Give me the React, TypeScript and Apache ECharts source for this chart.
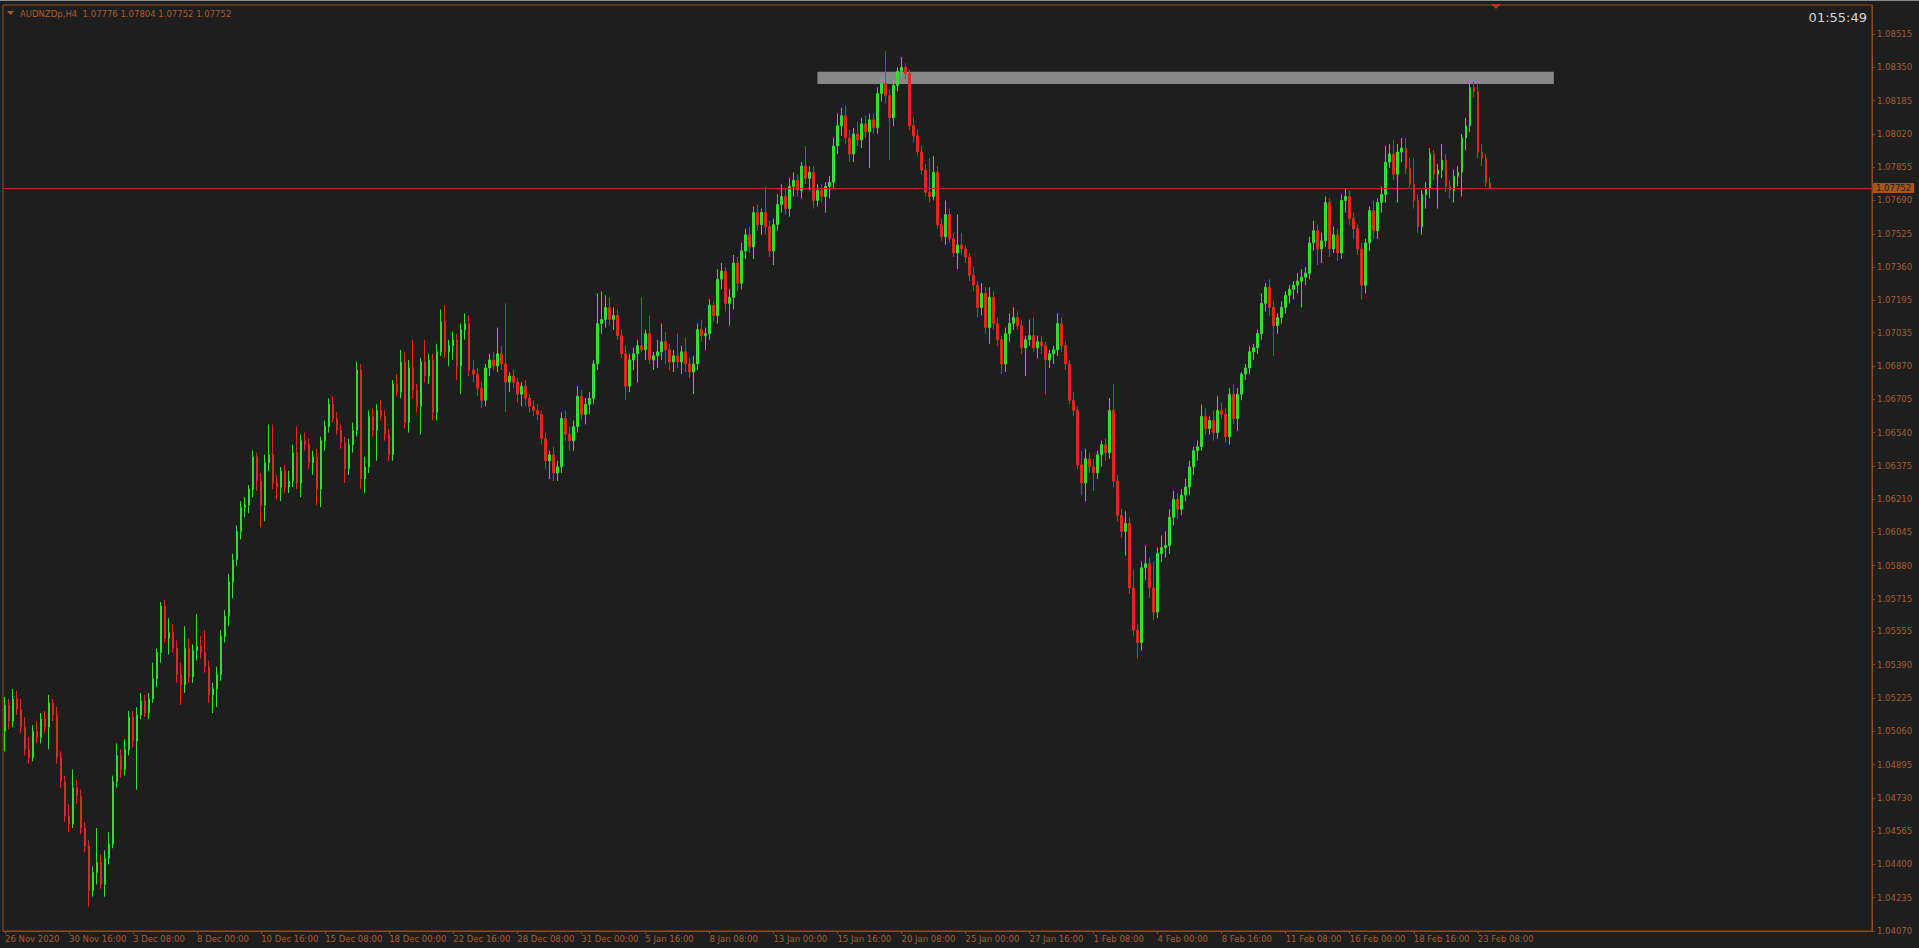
import React, { useEffect, useRef } from "react";
import * as echarts from "echarts";

const FONT = '"DejaVu Sans", Tahoma, Verdana, sans-serif';
const BG = "#1e1e1e";
const FG = "#a85d30";
const LINE = "#8f4a1f";
const UP = "#35dc35";
const DOWN = "#dc2a22";
const PRICE_LINE = "#c02424";
const PRICE_BOX = "#a8541f";

const SYMBOL = "AUDNZDp,H4";
const CLOCK = "01:55:49";

const PRICE_MIN = 1.0407;
const PRICE_MAX = 1.086587;

// zone rectangle (resistance band), in bars and prices
const ZONE_START = 203;
const ZONE_END = 387;
const ZONE_TOP = 1.08328;
const ZONE_BOTTOM = 1.08267;

const SLOTS = 467; // bar slots incl. right-hand chart shift
const LABEL_STEP = 16;

const timeLabels = [
  "26 Nov 2020", "30 Nov 16:00", "3 Dec 08:00", "8 Dec 00:00", "10 Dec 16:00", "15 Dec 08:00",
  "18 Dec 00:00", "22 Dec 16:00", "28 Dec 08:00", "31 Dec 00:00", "5 Jan 16:00", "8 Jan 08:00",
  "13 Jan 00:00", "15 Jan 16:00", "20 Jan 08:00", "25 Jan 00:00", "27 Jan 16:00", "1 Feb 08:00",
  "4 Feb 00:00", "8 Feb 16:00", "11 Feb 08:00", "16 Feb 00:00", "18 Feb 16:00", "23 Feb 08:00",
];

const priceLabels = [
  "1.08515", "1.08350", "1.08185", "1.08020", "1.07855", "1.07690", "1.07525", "1.07360",
  "1.07195", "1.07035", "1.06870", "1.06705", "1.06540", "1.06375", "1.06210", "1.06045",
  "1.05880", "1.05715", "1.05555", "1.05390", "1.05225", "1.05060", "1.04895", "1.04730",
  "1.04565", "1.04400", "1.04235", "1.04070",
];

// H4 candles as [open, high, low, close]
const seg1 = [
  [1.0506,1.0523,1.0496,1.0519],[1.0519,1.0522,1.0507,1.0511],[1.0511,1.0527,1.0508,1.0522],[1.0522,1.0526,1.0514,1.0517],[1.0517,1.0522,1.0505,1.0508],[1.0508,1.0513,1.0494,1.0497],[1.0497,1.0503,1.0490,1.0493],[1.0493,1.0509,1.0491,1.0506],
  [1.0506,1.0511,1.0500,1.0503],[1.0503,1.0515,1.0500,1.0512],[1.0512,1.0516,1.0505,1.0508],[1.0508,1.0524,1.0497,1.0520],[1.0520,1.0522,1.0511,1.0514],[1.0514,1.0518,1.0490,1.0493],[1.0493,1.0496,1.0478,1.0481],[1.0481,1.0484,1.0461,1.0464],
  [1.0464,1.0470,1.0456,1.0460],[1.0460,1.0487,1.0458,1.0478],[1.0478,1.0482,1.0470,1.0474],[1.0474,1.0477,1.0455,1.0458],[1.0458,1.0461,1.0446,1.0449],[1.0449,1.0452,1.0419,1.0427],[1.0427,1.0439,1.0424,1.0436],[1.0436,1.0458,1.0430,1.0441],
  [1.0441,1.0445,1.0428,1.0430],[1.0430,1.0447,1.0424,1.0443],[1.0443,1.0456,1.0440,1.0450],[1.0450,1.0484,1.0448,1.0481],[1.0481,1.0500,1.0478,1.0494],[1.0494,1.0497,1.0483,1.0487],[1.0487,1.0502,1.0484,1.0497],[1.0497,1.0516,1.0494,1.0513],
  [1.0513,1.0516,1.0498,1.0501],[1.0501,1.0518,1.0477,1.0514],[1.0514,1.0525,1.0512,1.0521],[1.0521,1.0524,1.0513,1.0515],[1.0515,1.0525,1.0512,1.0522],[1.0522,1.0540,1.0520,1.0532],[1.0532,1.0547,1.0528,1.0545],[1.0545,1.0570,1.0540,1.0568],
  [1.0568,1.0571,1.0550,1.0552],[1.0552,1.0562,1.0544,1.0555],[1.0555,1.0559,1.0545,1.0547],[1.0547,1.0551,1.0530,1.0534],[1.0534,1.0540,1.0519,1.0529],[1.0529,1.0558,1.0525,1.0547],[1.0547,1.0552,1.0530,1.0533],[1.0533,1.0549,1.0530,1.0546],
  [1.0546,1.0564,1.0541,1.0548],[1.0548,1.0553,1.0542,1.0545],[1.0545,1.0556,1.0535,1.0538],[1.0538,1.0541,1.0520,1.0524],[1.0524,1.0530,1.0515,1.0527],[1.0527,1.0538,1.0518,1.0534],[1.0534,1.0556,1.0531,1.0553],[1.0553,1.0566,1.0550,1.0563],
  [1.0563,1.0584,1.0558,1.0580],[1.0580,1.0594,1.0572,1.0591],[1.0591,1.0608,1.0588,1.0605],[1.0605,1.0620,1.0601,1.0617],[1.0617,1.0622,1.0612,1.0618],[1.0618,1.0628,1.0614,1.0626],[1.0626,1.0645,1.0622,1.0642],[1.0642,1.0644,1.0625,1.0630],
];

const seg2 = [
  [1.0630,1.0634,1.0607,1.0618],[1.0618,1.0643,1.0610,1.0639],[1.0639,1.0658,1.0635,1.0643],[1.0643,1.0658,1.0626,1.0629],[1.0629,1.0633,1.0621,1.0627],[1.0627,1.0637,1.0620,1.0635],[1.0635,1.0638,1.0624,1.0627],[1.0627,1.0635,1.0624,1.0630],
  [1.0630,1.0648,1.0627,1.0644],[1.0644,1.0657,1.0626,1.0629],[1.0629,1.0653,1.0622,1.0650],[1.0650,1.0654,1.0645,1.0648],[1.0648,1.0651,1.0636,1.0639],[1.0639,1.0645,1.0633,1.0642],[1.0642,1.0646,1.0618,1.0626],[1.0626,1.0652,1.0617,1.0650],
  [1.0650,1.0660,1.0645,1.0657],[1.0657,1.0671,1.0654,1.0668],[1.0668,1.0672,1.0659,1.0661],[1.0661,1.0664,1.0653,1.0655],[1.0655,1.0658,1.0646,1.0649],[1.0649,1.0652,1.0629,1.0636],[1.0636,1.0651,1.0633,1.0648],[1.0648,1.0659,1.0644,1.0655],
  [1.0655,1.0689,1.0652,1.0685],[1.0685,1.0688,1.0626,1.0631],[1.0631,1.0642,1.0624,1.0637],[1.0637,1.0665,1.0634,1.0662],[1.0662,1.0666,1.0652,1.0655],[1.0655,1.0668,1.0640,1.0665],[1.0665,1.0670,1.0660,1.0662],[1.0662,1.0665,1.0650,1.0653],
  [1.0653,1.0656,1.0640,1.0643],[1.0643,1.0680,1.0640,1.0678],[1.0678,1.0683,1.0672,1.0674],[1.0674,1.0695,1.0671,1.0689],[1.0689,1.0694,1.0656,1.0659],[1.0659,1.0690,1.0654,1.0686],[1.0686,1.0700,1.0671,1.0675],[1.0675,1.0678,1.0664,1.0667],
  [1.0667,1.0691,1.0653,1.0689],[1.0689,1.0700,1.0679,1.0682],[1.0682,1.0693,1.0678,1.0690],[1.0690,1.0693,1.0660,1.0664],[1.0664,1.0698,1.0660,1.0694],[1.0694,1.0715,1.0692,1.0709],[1.0709,1.0717,1.0691,1.0694],[1.0694,1.0700,1.0687,1.0697],
  [1.0697,1.0704,1.0690,1.0700],[1.0700,1.0703,1.0680,1.0687],[1.0687,1.0708,1.0673,1.0705],[1.0705,1.0713,1.0700,1.0708],[1.0708,1.0712,1.0682,1.0685],[1.0685,1.0690,1.0679,1.0683],[1.0683,1.0686,1.0672,1.0676],[1.0676,1.0679,1.0666,1.0670],
  [1.0670,1.0688,1.0667,1.0686],[1.0686,1.0693,1.0682,1.0690],[1.0690,1.0694,1.0685,1.0687],[1.0687,1.0706,1.0684,1.0693],[1.0693,1.0697,1.0685,1.0688],[1.0688,1.0718,1.0664,1.0679],[1.0679,1.0684,1.0674,1.0682],[1.0682,1.0685,1.0676,1.0679],
];

const seg3 = [
  [1.0679,1.0681,1.0669,1.0673],[1.0673,1.0679,1.0667,1.0677],[1.0677,1.0680,1.0667,1.0671],[1.0671,1.0673,1.0664,1.0667],[1.0667,1.0670,1.0662,1.0665],[1.0665,1.0668,1.0660,1.0663],[1.0663,1.0665,1.0648,1.0651],[1.0651,1.0654,1.0636,1.0640],
  [1.0640,1.0645,1.0631,1.0643],[1.0643,1.0647,1.0630,1.0634],[1.0634,1.0640,1.0630,1.0637],[1.0637,1.0664,1.0634,1.0661],[1.0661,1.0665,1.0650,1.0653],[1.0653,1.0657,1.0645,1.0650],[1.0650,1.0660,1.0645,1.0657],[1.0657,1.0677,1.0654,1.0672],
  [1.0672,1.0675,1.0660,1.0663],[1.0663,1.0671,1.0658,1.0668],[1.0668,1.0674,1.0663,1.0671],[1.0671,1.0690,1.0668,1.0688],[1.0688,1.0723,1.0685,1.0708],[1.0708,1.0724,1.0703,1.0710],[1.0710,1.0722,1.0706,1.0716],[1.0716,1.0721,1.0707,1.0710],
  [1.0710,1.0716,1.0705,1.0712],[1.0712,1.0715,1.0700,1.0702],[1.0702,1.0705,1.0691,1.0693],[1.0693,1.0697,1.0670,1.0677],[1.0677,1.0693,1.0674,1.0690],[1.0690,1.0696,1.0685,1.0693],[1.0693,1.0700,1.0679,1.0697],[1.0697,1.0721,1.0694,1.0695],
  [1.0695,1.0705,1.0690,1.0703],[1.0703,1.0712,1.0688,1.0690],[1.0690,1.0694,1.0685,1.0692],[1.0692,1.0700,1.0686,1.0694],[1.0694,1.0708,1.0690,1.0699],[1.0699,1.0704,1.0688,1.0695],[1.0695,1.0698,1.0685,1.0689],[1.0689,1.0695,1.0684,1.0692],
  [1.0692,1.0703,1.0686,1.0689],[1.0689,1.0697,1.0683,1.0694],[1.0694,1.0701,1.0684,1.0688],[1.0688,1.0691,1.0681,1.0684],[1.0684,1.0692,1.0673,1.0688],[1.0688,1.0708,1.0685,1.0705],[1.0705,1.0710,1.0699,1.0702],[1.0702,1.0706,1.0695,1.0703],
  [1.0703,1.0720,1.0700,1.0717],[1.0717,1.0719,1.0709,1.0712],[1.0712,1.0735,1.0708,1.0730],[1.0730,1.0738,1.0725,1.0734],[1.0734,1.0736,1.0714,1.0718],[1.0718,1.0725,1.0707,1.0721],[1.0721,1.0742,1.0715,1.0738],[1.0738,1.0741,1.0724,1.0728],
  [1.0728,1.0748,1.0725,1.0744],[1.0744,1.0755,1.0740,1.0752],[1.0752,1.0756,1.0743,1.0746],[1.0746,1.0766,1.0740,1.0763],[1.0763,1.0767,1.0754,1.0757],[1.0757,1.0765,1.0752,1.0763],[1.0763,1.0776,1.0752,1.0756],[1.0756,1.0759,1.0741,1.0744],
];

const seg4 = [
  [1.0744,1.0760,1.0737,1.0757],[1.0757,1.0772,1.0754,1.0767],[1.0767,1.0777,1.0763,1.0771],[1.0771,1.0775,1.0762,1.0765],[1.0765,1.0780,1.0761,1.0776],[1.0776,1.0783,1.0771,1.0779],[1.0779,1.0782,1.0771,1.0774],[1.0774,1.0788,1.0770,1.0786],
  [1.0786,1.0796,1.0777,1.0780],[1.0780,1.0786,1.0774,1.0783],[1.0783,1.0786,1.0765,1.0769],[1.0769,1.0777,1.0766,1.0774],[1.0774,1.0777,1.0768,1.0771],[1.0771,1.0778,1.0763,1.0776],[1.0776,1.0781,1.0770,1.0778],[1.0778,1.0800,1.0775,1.0796],
  [1.0796,1.0812,1.0792,1.0806],[1.0806,1.0815,1.0801,1.0811],[1.0811,1.0816,1.0797,1.0800],[1.0800,1.0804,1.0788,1.0792],[1.0792,1.0805,1.0788,1.0802],[1.0802,1.0808,1.0796,1.0799],[1.0799,1.0810,1.0795,1.0807],[1.0807,1.0811,1.0800,1.0803],
  [1.0803,1.0812,1.0785,1.0809],[1.0809,1.0812,1.0802,1.0805],[1.0805,1.0825,1.0802,1.0822],[1.0822,1.0830,1.0818,1.0827],[1.0827,1.0843,1.0817,1.0821],[1.0821,1.0824,1.0789,1.0810],[1.0810,1.0829,1.0806,1.0826],[1.0826,1.0835,1.0823,1.0833],
  [1.0833,1.0840,1.0830,1.0835],[1.0835,1.0837,1.0829,1.0832],[1.0832,1.0834,1.0804,1.0806],[1.0806,1.0810,1.0798,1.0801],[1.0801,1.0804,1.0791,1.0793],[1.0793,1.0796,1.0782,1.0784],[1.0784,1.0787,1.0771,1.0773],[1.0773,1.0790,1.0768,1.0771],
  [1.0771,1.0791,1.0769,1.0783],[1.0783,1.0786,1.0755,1.0757],[1.0757,1.0760,1.0749,1.0751],[1.0751,1.0769,1.0747,1.0762],[1.0762,1.0765,1.0748,1.0750],[1.0750,1.0753,1.0741,1.0743],[1.0743,1.0762,1.0735,1.0747],[1.0747,1.0753,1.0742,1.0745],
  [1.0745,1.0747,1.0738,1.0741],[1.0741,1.0743,1.0729,1.0732],[1.0732,1.0736,1.0724,1.0727],[1.0727,1.0729,1.0711,1.0716],[1.0716,1.0728,1.0712,1.0723],[1.0723,1.0726,1.0703,1.0706],[1.0706,1.0726,1.0698,1.0721],[1.0721,1.0724,1.0705,1.0708],
  [1.0708,1.0711,1.0697,1.0700],[1.0700,1.0702,1.0683,1.0688],[1.0688,1.0706,1.0684,1.0703],[1.0703,1.0713,1.0699,1.0708],[1.0708,1.0716,1.0705,1.0711],[1.0711,1.0714,1.0705,1.0707],[1.0707,1.0710,1.0693,1.0696],[1.0696,1.0702,1.0682,1.0700],
];

const seg5 = [
  [1.0700,1.0710,1.0697,1.0702],[1.0702,1.0711,1.0694,1.0696],[1.0696,1.0702,1.0691,1.0699],[1.0699,1.0702,1.0693,1.0697],[1.0697,1.0699,1.0673,1.0690],[1.0690,1.0695,1.0686,1.0693],[1.0693,1.0697,1.0688,1.0695],[1.0695,1.0713,1.0692,1.0708],
  [1.0708,1.0711,1.0694,1.0697],[1.0697,1.0699,1.0685,1.0688],[1.0688,1.0690,1.0668,1.0670],[1.0670,1.0674,1.0662,1.0665],[1.0665,1.0667,1.0636,1.0638],[1.0638,1.0645,1.0623,1.0629],[1.0629,1.0646,1.0620,1.0641],[1.0641,1.0644,1.0634,1.0637],
  [1.0637,1.0641,1.0625,1.0634],[1.0634,1.0645,1.0631,1.0643],[1.0643,1.0650,1.0637,1.0648],[1.0648,1.0651,1.0640,1.0644],[1.0644,1.0671,1.0641,1.0665],[1.0665,1.0678,1.0627,1.0630],[1.0630,1.0633,1.0610,1.0613],[1.0613,1.0616,1.0602,1.0605],
  [1.0605,1.0615,1.0593,1.0609],[1.0609,1.0612,1.0574,1.0577],[1.0577,1.0586,1.0553,1.0556],[1.0556,1.0559,1.0542,1.0550],[1.0550,1.0590,1.0546,1.0587],[1.0587,1.0598,1.0581,1.0589],[1.0589,1.0592,1.0572,1.0577],[1.0577,1.0590,1.0561,1.0565],
  [1.0565,1.0597,1.0562,1.0594],[1.0594,1.0603,1.0590,1.0597],[1.0597,1.0605,1.0592,1.0598],[1.0598,1.0616,1.0594,1.0612],[1.0612,1.0625,1.0608,1.0621],[1.0621,1.0624,1.0611,1.0616],[1.0616,1.0626,1.0613,1.0623],[1.0623,1.0631,1.0620,1.0627],
  [1.0627,1.0640,1.0623,1.0637],[1.0637,1.0647,1.0633,1.0645],[1.0645,1.0650,1.0640,1.0647],[1.0647,1.0668,1.0645,1.0662],[1.0662,1.0666,1.0653,1.0656],[1.0656,1.0662,1.0653,1.0660],[1.0660,1.0665,1.0650,1.0654],[1.0654,1.0672,1.0651,1.0665],
  [1.0665,1.0669,1.0661,1.0663],[1.0663,1.0666,1.0649,1.0652],[1.0652,1.0676,1.0648,1.0673],[1.0673,1.0678,1.0658,1.0661],[1.0661,1.0676,1.0655,1.0673],[1.0673,1.0684,1.0670,1.0683],[1.0683,1.0688,1.0680,1.0686],[1.0686,1.0697,1.0683,1.0694],
  [1.0694,1.0698,1.0690,1.0696],[1.0696,1.0705,1.0693,1.0703],[1.0703,1.0723,1.0700,1.0718],[1.0718,1.0728,1.0714,1.0726],[1.0726,1.0730,1.0712,1.0716],[1.0716,1.0719,1.0692,1.0707],[1.0707,1.0713,1.0703,1.0711],[1.0711,1.0719,1.0708,1.0716],
];

const seg6 = [
  [1.0716,1.0724,1.0713,1.0722],[1.0722,1.0727,1.0718,1.0725],[1.0725,1.0729,1.0720,1.0727],[1.0727,1.0733,1.0723,1.0729],[1.0729,1.0735,1.0716,1.0731],[1.0731,1.0736,1.0727,1.0733],[1.0733,1.0751,1.0730,1.0748],[1.0748,1.0759,1.0744,1.0754],
  [1.0754,1.0757,1.0737,1.0745],[1.0745,1.0753,1.0738,1.0749],[1.0749,1.0771,1.0746,1.0768],[1.0768,1.0770,1.0741,1.0745],[1.0745,1.0756,1.0743,1.0752],[1.0752,1.0755,1.0739,1.0743],[1.0743,1.0772,1.0740,1.0769],[1.0769,1.0775,1.0763,1.0771],
  [1.0771,1.0774,1.0757,1.0760],[1.0760,1.0763,1.0750,1.0755],[1.0755,1.0757,1.0742,1.0745],[1.0745,1.0748,1.0720,1.0727],[1.0727,1.0750,1.0723,1.0748],[1.0748,1.0766,1.0744,1.0764],[1.0764,1.0769,1.0750,1.0754],[1.0754,1.0770,1.0750,1.0768],
  [1.0768,1.0776,1.0763,1.0772],[1.0772,1.0796,1.0768,1.0788],[1.0788,1.0797,1.0785,1.0792],[1.0792,1.0799,1.0779,1.0782],[1.0782,1.0797,1.0768,1.0793],[1.0793,1.0800,1.0788,1.0795],[1.0795,1.0800,1.0782,1.0785],[1.0785,1.0790,1.0775,1.0777],
  [1.0777,1.0790,1.0765,1.0769],[1.0769,1.0772,1.0753,1.0756],[1.0756,1.0774,1.0752,1.0772],[1.0772,1.0778,1.0765,1.0775],[1.0775,1.0795,1.0770,1.0792],[1.0792,1.0794,1.0779,1.0782],[1.0782,1.0787,1.0765,1.0784],[1.0784,1.0797,1.0780,1.0789],
  [1.0789,1.0792,1.0773,1.0776],[1.0776,1.0779,1.0770,1.0774],[1.0774,1.0784,1.0768,1.0781],[1.0781,1.0786,1.0776,1.0783],[1.0783,1.0802,1.0771,1.0800],[1.0800,1.0810,1.0794,1.0806],[1.0806,1.0828,1.0803,1.0825],[1.0825,1.0828,1.0820,1.0823],
  [1.0823,1.0827,1.0790,1.0793],[1.0793,1.0797,1.0786,1.0790],[1.0790,1.0792,1.0776,1.0778],[1.07776,1.07804,1.07752,1.07752],
];

const candles = [...seg1, ...seg2, ...seg3, ...seg4, ...seg5, ...seg6];
const lastBar = candles[candles.length - 1];
const lastClose = lastBar[3];
const categories = Array.from({ length: SLOTS }, (_, i) => String(i));
const priceTicks = priceLabels.map((s) => parseFloat(s));

const showTick = (i: number) => i % LABEL_STEP === 0 && i / LABEL_STEP < timeLabels.length;

export default function App() {
  const ref = useRef<HTMLDivElement>(null);

  useEffect(() => {
    document.body.style.margin = "0";
    document.body.style.background = BG;
    const chart = echarts.init(ref.current!, null, { renderer: "svg" });
    const titleText = `${SYMBOL}  ${lastBar.map((v) => v.toFixed(5)).join(" ")}`;

    chart.setOption({
      animation: false,
      backgroundColor: BG,
      grid: {
        left: 3,
        right: 47,
        top: 5,
        bottom: 17,
        show: true,
        borderColor: LINE,
        borderWidth: 1,
        backgroundColor: "transparent",
      },
      xAxis: {
        type: "category",
        data: categories,
        boundaryGap: true,
        axisLine: { show: true, lineStyle: { color: LINE, width: 1 } },
        axisTick: {
          show: true,
          alignWithLabel: true,
          length: 3,
          interval: (i: number) => showTick(i),
          lineStyle: { color: LINE },
        },
        axisLabel: {
          show: true,
          interval: (i: number) => showTick(i),
          formatter: (_v: string, i: number) => (showTick(i) ? timeLabels[i / LABEL_STEP] : ""),
          color: FG,
          fontFamily: FONT,
          fontSize: 8.5,
          align: "left",
          margin: 3,
        },
        splitLine: { show: false },
      },
      yAxis: {
        type: "value",
        position: "right",
        min: PRICE_MIN,
        max: PRICE_MAX,
        axisLine: { show: true, lineStyle: { color: LINE, width: 1 } },
        axisTick: { show: true, length: 3, customValues: priceTicks, lineStyle: { color: LINE } },
        axisLabel: {
          show: true,
          customValues: priceTicks,
          formatter: (v: number) => v.toFixed(5),
          color: FG,
          fontFamily: FONT,
          fontSize: 8.5,
          margin: 5,
        },
        splitLine: { show: false },
      },
      series: [
        {
          type: "candlestick",
          z: 2,
          barWidth: 2,
          data: candles.map(([o, h, l, c]) => [o, c, l, h]),
          itemStyle: {
            color: UP,
            color0: DOWN,
            borderColor: UP,
            borderColor0: DOWN,
            borderWidth: 1,
          },
          emphasis: { disabled: true },
        },
        {
          type: "line",
          z: 5,
          data: [],
          markArea: {
            silent: true,
            itemStyle: { color: "rgba(160,160,160,0.82)" },
            data: [
              [
                { xAxis: String(ZONE_START), yAxis: ZONE_TOP },
                { xAxis: String(ZONE_END), yAxis: ZONE_BOTTOM },
              ],
            ],
          },
          markLine: {
            silent: true,
            precision: 5,
            symbol: ["none", "none"],
            lineStyle: { color: PRICE_LINE, width: 1, type: "solid" },
            label: {
              show: true,
              position: "end",
              distance: 1,
              formatter: () => lastClose.toFixed(5),
              color: "#1c1c1c",
              backgroundColor: PRICE_BOX,
              padding: [1, 3, 0, 3],
              fontFamily: FONT,
              fontSize: 8.5,
            },
            emphasis: { disabled: true },
            data: [{ yAxis: lastClose }],
          },
        },
      ],
      graphic: [
        { type: "rect", shape: { x: 0, y: 0, width: 1919, height: 1 }, style: { fill: "#8c8c8c" }, silent: true },
        { type: "polygon", shape: { points: [[7, 11], [14, 11], [10.5, 15]] }, style: { fill: FG }, silent: true },
        {
          type: "text",
          x: 20,
          y: 14,
          style: { text: titleText, fill: FG, font: `8.5px ${FONT}`, verticalAlign: "middle" },
          silent: true,
        },
        {
          type: "text",
          x: 1867,
          y: 17,
          style: { text: CLOCK, fill: "#d6d6d6", font: `13px ${FONT}`, align: "right", verticalAlign: "middle" },
          silent: true,
        },
        { type: "polygon", shape: { points: [[1491, 4], [1501, 4], [1496, 9]] }, style: { fill: "#c0301e" }, silent: true },
      ],
    });

    return () => chart.dispose();
  }, []);

  return (
    <div
      ref={ref}
      style={{ position: "fixed", left: 0, top: 0, width: 1919, height: 948, background: BG }}
    />
  );
}
